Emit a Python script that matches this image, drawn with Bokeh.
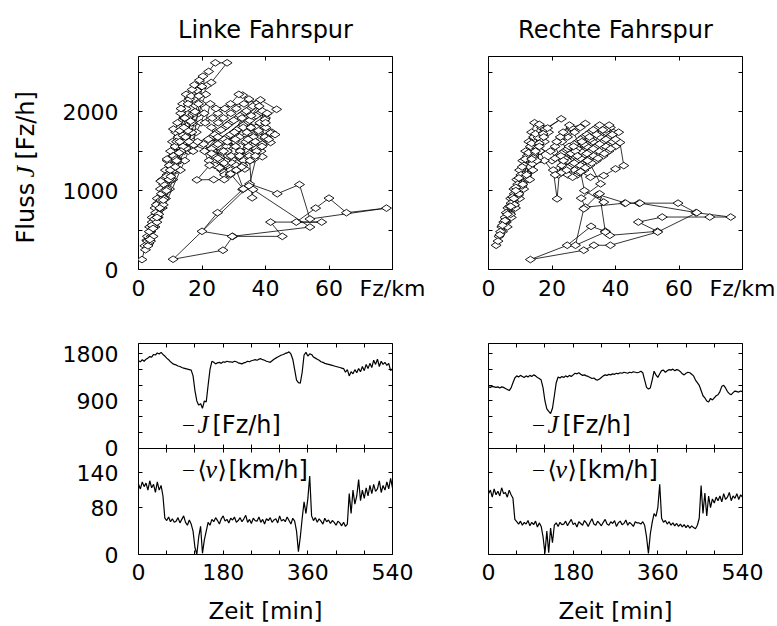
import math
from bokeh.plotting import figure
from bokeh.layouts import row, column
from bokeh.models import Range1d, FixedTicker, LinearAxis, Label
from bokeh.embed import file_html
from bokeh.resources import INLINE

# ---------------- data ----------------
t_min = list(range(0, 541, 4))   # sample times [min]

J_left = [
    1670, 1650, 1690, 1660, 1700, 1720, 1750, 1740, 1790, 1780,
    1820, 1800, 1830, 1790, 1760, 1720, 1690, 1650, 1620, 1600,
    1590, 1570, 1560, 1540, 1530, 1520, 1510, 1500, 1490, 1380,
    1100, 900, 820, 850, 760, 900, 880, 1200, 1500, 1660,
    1640, 1610, 1630, 1640, 1620, 1650, 1640, 1660, 1650, 1650,
    1640, 1660, 1650, 1630, 1620, 1610, 1630, 1640, 1660, 1650,
    1670, 1680, 1690, 1680, 1700, 1710, 1690, 1680, 1660, 1650,
    1640, 1670, 1700, 1720, 1740, 1760, 1780, 1790, 1810, 1820,
    1840, 1800, 1700, 1500, 1300, 1250, 1240, 1450, 1780, 1830,
    1760, 1800, 1790, 1740, 1720, 1700, 1680, 1650, 1640, 1620,
    1610, 1600, 1590, 1580, 1570, 1560, 1550, 1540, 1530, 1520,
    1450, 1500, 1380, 1460, 1420, 1500, 1440, 1520, 1460, 1560,
    1480, 1600, 1520, 1620, 1540, 1680, 1600, 1700, 1560, 1660,
    1600, 1640, 1580, 1620, 1480, 1520,
]
v_left = [
    120, 112, 124, 116, 122, 110, 126, 114, 120, 106,
    124, 110, 118, 100, 62, 58, 64, 56, 61, 55,
    57, 63, 54, 60, 66, 55, 50, 59, 52, 40,
    12, 0, 30, 48, 2, 25, 40, 55, 50, 60,
    56, 63, 58, 52, 61, 66, 57, 60, 54, 62,
    59, 64, 55, 58, 63, 56, 61, 67, 55, 60,
    53, 62, 58, 57, 64, 55, 60, 52, 61, 58,
    63, 55, 59, 61, 54, 66, 57, 60, 56, 64,
    58, 52, 62, 57, 40, 5, 30, 62, 90, 70,
    95, 134, 66, 58, 63, 55, 61, 57, 52, 62,
    56, 59, 53, 58, 55, 50, 57, 54, 49, 55,
    48, 52, 104, 70, 110, 86, 100, 128, 92, 110,
    96, 114, 100, 118, 104, 120, 108, 112, 126, 106,
    118, 110, 124, 112, 130, 114,
]
J_right = [
    1170, 1160, 1180, 1170, 1160, 1170, 1150, 1170, 1160, 1140,
    1120, 1100, 1150, 1250, 1340, 1380, 1360, 1390, 1370, 1350,
    1380, 1360, 1390, 1370, 1400, 1380, 1350, 1330, 1300, 1150,
    900, 750, 700, 660, 760, 1000, 1250, 1360, 1340, 1370,
    1350, 1380, 1360, 1390, 1370, 1400, 1430, 1420, 1440, 1410,
    1390, 1400, 1380, 1370, 1350, 1330, 1340, 1310, 1300, 1320,
    1350, 1380, 1400, 1390, 1410, 1400, 1420, 1410, 1430, 1420,
    1440, 1430, 1450, 1440, 1430, 1450, 1440, 1460, 1450, 1440,
    1450, 1470, 1440, 1300, 1160, 1130, 1150, 1300, 1470, 1400,
    1350, 1420, 1480, 1490, 1450, 1480, 1500, 1490, 1510, 1480,
    1500, 1490, 1460, 1420, 1400, 1430, 1450, 1440, 1410, 1380,
    1300, 1250, 1200, 1100, 1000, 960, 900, 880, 950, 920,
    960, 1000, 1020, 1080, 1180, 1200, 1150, 1080, 1040, 1020,
    1060, 1090, 1080, 1070, 1090, 1080,
]
v_right = [
    104, 110, 98, 112, 102, 108, 100, 114, 104, 106,
    98, 110, 102, 96, 60, 56, 52, 57, 50, 55,
    52, 58, 49, 55, 51, 57, 47, 54, 48, 30,
    2, 40, 3, 45, 20, 50, 54, 48, 55, 51,
    52, 57, 49, 55, 60, 51, 54, 47, 56, 53,
    50, 58, 54, 48, 55, 61, 52, 50, 57, 53,
    49, 55, 60, 52, 50, 56, 53, 58, 48, 54,
    57, 51, 53, 59, 50, 55, 52, 48, 56, 54,
    54, 52, 56, 50, 30, 2, 35, 55, 70, 65,
    80, 120, 62, 55, 58, 52, 56, 50, 54, 49,
    53, 48, 52, 47, 51, 46, 50, 45, 49, 46,
    44, 50, 62, 118, 70, 105, 66, 100, 80, 95,
    88, 98, 92, 100, 90, 104, 94, 98, 106, 92,
    100, 96, 104, 94, 102, 98,
]

# fundamental diagram points (density [Fz/km], flow [Fz/h]) in time order
fd_left_free1 = [
    (1.1, 126), (2.6, 370), (3.3, 330), (2.0, 300), (2.8, 420), (3.5, 540), (4.3, 660), (5.2, 780),
    (5.9, 900), (6.9, 1020), (7.5, 1140), (8.5, 1260), (9.1, 1380), (10.1, 1500), (10.7, 1620),
    (11.7, 1740), (12.3, 1860), (13.3, 1980), (13.9, 2100), (15.0, 2220), (19.2, 2400), (18.2, 2280),
    (17.4, 2160), (16.2, 2040), (15.5, 1920), (14.3, 1800), (13.5, 1680), (12.4, 1560), (11.6, 1440),
    (10.5, 1320), (9.7, 1200), (8.5, 1080), (7.8, 960), (6.6, 840), (5.9, 720), (4.7, 600), (3.9, 480),
    (2.8, 360), (4.0, 420), (5.2, 540), (6.2, 660), (7.5, 780), (8.5, 900), (9.8, 1020), (10.8, 1140),
    (12.1, 1260), (13.0, 1380), (14.4, 1500), (15.3, 1620), (16.7, 1740), (17.6, 1860), (19.0, 1980),
    (19.9, 2100), (21.2, 2220), (20.3, 2450), (22.1, 2510), (24.2, 2620), (27.9, 2620), (22.9, 2370),
    (21.4, 2330), (18.4, 2270), (16.9, 2280), (16.1, 2160), (15.0, 2040), (14.3, 1920), (13.2, 1800),
    (12.5, 1680), (11.5, 1560), (10.8, 1440), (9.7, 1320), (9.0, 1200), (7.9, 1080), (7.2, 960),
    (6.1, 840), (5.4, 720), (4.3, 600), (3.7, 480), (4.7, 540), (6.0, 660), (6.9, 780), (8.1, 900),
    (9.0, 1020), (10.3, 1140), (11.2, 1260), (12.4, 1380), (13.3, 1500), (14.6, 1620), (15.4, 1740),
    (16.7, 1860), (17.6, 1980), (18.9, 2100), (20.7, 1980), (19.7, 1860), (18.2, 1740), (17.2, 1620),
    (15.7, 1500), (14.6, 1380), (13.2, 1260),
]
fd_left_free3 = [
    (2.2, 250), (3.0, 300), (3.8, 360), (4.6, 420), (3.4, 480), (4.2, 560), (5.0, 640), (5.8, 600),
    (6.4, 700), (5.6, 820), (7.0, 880), (7.8, 820), (8.2, 1000), (7.0, 1120), (8.8, 1180), (9.6, 1140),
    (10.0, 1260), (9.0, 1400), (11.0, 1440), (11.8, 1400), (12.0, 1620), (11.0, 1780), (13.0, 1760),
    (14.0, 1700), (14.6, 1920), (13.4, 2040), (15.6, 2100), (16.6, 2200), (17.6, 2340), (19.0, 2200),
    (20.0, 2320),
]
fd_left_cong1 = [
    (17.0, 1560), (16.4, 1520), (17.4, 1580), (22.1, 1500), (24.0, 1560), (26.2, 1620), (27.9, 1680),
    (30.1, 1740), (31.9, 1800), (34.2, 1860), (35.9, 1920), (38.1, 1980), (40.0, 1920), (38.2, 1860),
    (35.8, 1800), (34.1, 1740), (31.8, 1680), (30.2, 1620), (27.8, 1560), (26.1, 1500), (23.9, 1440),
    (22.2, 1380), (24.1, 1320), (25.9, 1380), (28.2, 1440), (29.9, 1500), (32.1, 1560), (33.8, 1620),
    (36.2, 1680), (37.9, 1740), (40.1, 1800), (42.0, 1740), (39.8, 1680), (38.1, 1620), (35.9, 1560),
    (34.2, 1500), (31.8, 1440), (30.1, 1380), (27.9, 1320), (26.2, 1260), (23.0, 1800), (25.1, 1860),
    (26.8, 1920), (29.1, 1980), (30.8, 2040), (33.2, 2100), (34.8, 2160), (32.8, 2210), (31.6, 2220),
    (29.0, 2100), (27.2, 2040), (25.0, 1980), (23.2, 1920), (21.0, 1860), (22.6, 2100), (24.4, 2040),
    (38.4, 2150), (43.5, 2030), (39.8, 1900), (37.1, 2100), (35.2, 2040), (33.0, 1980), (31.2, 1920),
    (28.9, 1860), (27.1, 1800), (24.8, 1740), (23.2, 1680), (21.0, 1620), (41.6, 1730), (41.6, 1610),
    (38.6, 1500), (36.3, 1400), (39.0, 1430),
]
fd_left_cong3 = [
    (23.0, 1530), (25.0, 1590), (27.0, 1650), (29.0, 1710), (31.0, 1770), (33.0, 1830), (35.0, 1890),
    (37.0, 1950), (39.0, 2010), (36.0, 2070), (34.0, 2010), (32.0, 1950), (30.0, 1890), (28.0, 1830),
    (26.0, 1770), (24.0, 1710), (22.0, 1650), (20.5, 1590), (23.0, 1470), (25.0, 1410), (27.0, 1350),
    (29.0, 1290), (31.0, 1350), (33.0, 1410), (35.0, 1470), (37.0, 1530), (39.0, 1590), (41.0, 1650),
    (43.0, 1710), (40.0, 1860), (37.0, 1800), (34.5, 1650), (32.0, 1500), (29.5, 1350), (27.0, 1230),
    (25.5, 1290), (28.0, 1500), (30.5, 1650), (33.0, 1800), (35.5, 1950), (38.0, 2070), (40.5, 1980),
]
fd_left_jam1 = [
    (35.0, 1085), (43.7, 960), (50.7, 1077), (54.0, 640), (78.1, 778), (65.5, 720), (60.0, 904),
    (55.8, 778), (49.7, 601), (57.7, 601), (41.6, 601), (45.3, 420), (29.7, 420), (26.6, 244),
    (10.9, 130), (34.8, 1060), (32.8, 1014), (24.9, 720), (20.0, 484), (29.5, 420), (54.0, 538),
    (36.1, 1014), (35.8, 909), (35.0, 1380),
]
fd_left_cong2 = [
    (27.1, 1200), (29.0, 1260), (30.8, 1320), (33.1, 1380), (34.9, 1440), (37.2, 1500), (38.9, 1560),
    (36.8, 1440), (35.1, 1380), (32.9, 1320), (31.2, 1260), (28.8, 1200), (27.0, 1140), (23.7, 1140),
    (18.4, 1136), (22.4, 1320), (20.8, 1500), (25.0, 1680), (28.0, 1620), (30.6, 1560), (32.6, 1920),
    (30.2, 1740), (26.8, 1500), (29.2, 1440), (31.8, 1440), (34.6, 1560), (36.8, 1620), (37.8, 1760),
    (35.4, 1800),
]
fd_left_jam2 = [(30.8, 1260), (33.0, 1022), (29.0, 1212), (33.5, 1275), (32.5, 1300)]
fd_left_free2 = [
    (18.6, 1620), (17.2, 1500), (15.9, 1620), (16.8, 1740), (15.0, 1540), (14.0, 1560), (14.8, 1680),
    (16.4, 1880), (17.8, 2000), (15.6, 1760), (13.4, 1500), (12.0, 1380), (13.0, 1620), (14.3, 1800),
    (12.8, 1480), (11.6, 1300), (10.2, 1180), (8.8, 1000), (7.8, 880), (6.7, 780), (5.8, 660),
    (4.6, 520), (3.6, 380),
]

fd_right_free1 = [
    (2.4, 307), (3.3, 420), (4.2, 540), (5.2, 660), (6.1, 780), (7.0, 900), (8.0, 1020), (8.9, 1140),
    (9.8, 1260), (10.8, 1380), (11.7, 1500), (12.7, 1620), (13.6, 1740), (14.5, 1860), (16.7, 1800),
    (15.6, 1680), (14.4, 1560), (13.3, 1440), (12.2, 1320), (11.1, 1200), (10.0, 1080), (8.9, 960),
    (7.8, 840), (6.7, 720), (5.6, 600), (4.4, 480), (5.9, 540), (7.2, 660), (8.5, 780), (9.8, 900),
    (11.1, 1020), (12.4, 1140), (13.7, 1260), (15.0, 1380), (16.3, 1500), (17.6, 1620), (18.9, 1740),
    (14.2, 1680), (13.2, 1560), (12.2, 1440), (11.2, 1320), (10.2, 1200), (9.2, 1080), (8.1, 960),
    (7.1, 840), (6.1, 720), (5.1, 600), (7.0, 700), (8.2, 820), (9.4, 940), (10.6, 1060), (11.8, 1180),
    (13.0, 1300), (14.2, 1420), (15.4, 1540), (16.6, 1660), (17.8, 1780), (22.9, 1910), (18.6, 1793),
    (15.6, 1675),
]
fd_right_free3 = [
    (3.0, 360), (3.8, 480), (4.8, 600), (5.6, 720), (6.6, 800), (7.6, 920), (8.6, 1040), (9.6, 1160),
    (10.6, 1300), (11.6, 1400), (12.6, 1480), (13.6, 1600), (14.8, 1720), (16.0, 1840), (17.2, 1720),
    (16.0, 1600), (14.8, 1480), (13.8, 1340),
]
fd_right_cong1 = [
    (20.0, 1380), (22.1, 1440), (23.9, 1500), (26.0, 1560), (28.1, 1620), (29.9, 1680), (32.0, 1740),
    (34.1, 1800), (35.9, 1740), (38.0, 1680), (36.1, 1620), (33.9, 1560), (32.1, 1500), (29.9, 1440),
    (28.0, 1380), (26.1, 1320), (23.9, 1260), (22.0, 1200), (23.1, 1320), (24.9, 1380), (27.0, 1440),
    (29.1, 1500), (31.0, 1560), (32.9, 1620), (35.1, 1680), (36.9, 1740), (38.4, 1800), (41.0, 1740),
    (39.1, 1620), (37.0, 1560), (34.9, 1500), (33.1, 1440), (31.0, 1380), (28.9, 1320), (27.1, 1260),
    (25.0, 1200), (21.0, 1560), (23.1, 1620), (24.9, 1680), (27.1, 1740), (28.9, 1800), (30.5, 1850),
    (26.0, 1800), (24.4, 1740), (22.6, 1680), (28.0, 1200), (30.1, 1260), (31.9, 1320), (34.0, 1380),
    (36.1, 1440), (37.9, 1500), (40.0, 1560), (41.4, 1610), (42.6, 1317), (40.0, 1275), (36.3, 1190),
    (32.1, 1170),
]
fd_right_cong3 = [
    (21.0, 1410), (23.0, 1470), (25.0, 1530), (27.0, 1590), (29.0, 1650), (31.0, 1710), (33.0, 1770),
    (35.0, 1830), (37.0, 1770), (39.0, 1710), (37.0, 1650), (35.0, 1590), (33.0, 1530), (31.0, 1470),
    (29.0, 1410), (27.0, 1350), (25.0, 1290), (23.0, 1230), (24.0, 1410), (26.0, 1470), (28.0, 1530),
    (30.0, 1590), (32.0, 1650), (34.0, 1710), (36.0, 1770), (38.0, 1830), (40.0, 1650), (38.5, 1530),
    (36.5, 1470), (34.5, 1410), (32.5, 1350), (30.5, 1290), (28.5, 1230), (26.5, 1170), (19.5, 1500),
    (21.5, 1620), (23.5, 1740), (25.5, 1830),
]
fd_right_jam = [
    (35.3, 1086), (29.2, 904), (30.5, 790), (42.9, 841), (47.4, 841), (59.7, 841), (65.3, 720),
    (76.3, 665), (69.7, 665), (54.7, 665), (47.2, 601), (53.2, 484), (38.2, 433), (36.8, 484),
    (32.3, 547), (24.8, 307), (13.2, 126), (30.0, 244), (33.2, 307), (38.4, 307), (53.3, 475),
    (65.6, 720), (47.7, 841), (43.2, 841), (34.5, 950), (30.0, 770), (27.4, 307), (36.8, 475),
    (35.0, 960), (36.3, 854), (30.2, 1000),
]
fd_right_cong2 = [
    (29.0, 1240), (31.2, 1380), (27.4, 1500), (25.4, 1560), (22.8, 1440), (21.6, 896), (20.4, 1260),
    (23.6, 1380), (26.8, 1560), (29.4, 1620), (31.8, 1680), (28.0, 1440), (24.6, 1260), (21.0, 1200),
]
fd_right_free2 = [
    (17.6, 1380), (16.2, 1500), (15.2, 1380), (14.0, 1260), (13.0, 1140), (16.0, 1560), (17.4, 1680),
    (14.8, 1500), (13.6, 1400), (12.0, 1200), (10.8, 1080), (9.6, 960), (8.6, 1000), (8.0, 900),
    (7.0, 800), (6.0, 700), (5.2, 620), (4.4, 560), (3.6, 440),
]

# axis ticks and labels
fd_x_ticks = [0, 20, 40, 60, 80]
fd_x_labels = {0: "0", 20: "20", 40: "40", 60: "60", 80: "Fz/km"}
fd_y_major = [0, 1000, 2000]
fd_y_minor = [500, 1500, 2500]
t_major = [0, 180, 360, 540]
t_minor = [60, 120, 240, 300, 420, 480]
J_major = [0, 900, 1800]
J_minor = [300, 600, 1200, 1500]
v_major = [0, 80, 140]
J_MAX, V_MAX = 2000, 182

titles = ["Linke Fahrspur", "Rechte Fahrspur"]

# ---------------- styling helpers ----------------
SANS = "DejaVu Sans"
SERIF = "Liberation Serif"
FS = "22px"


def make_fig(width, height, xr, yr, mbl, mbr, mbt, mbb, title=None):
    p = figure(width=width, height=height, x_range=Range1d(*xr), y_range=Range1d(*yr),
               output_backend="svg", toolbar_location=None, title=title,
               x_axis_location=None, y_axis_location=None,
               min_border_left=mbl, min_border_right=mbr,
               min_border_top=mbt, min_border_bottom=mbb)
    p.grid.visible = False
    p.outline_line_color = "black"
    p.outline_line_width = 1
    p.background_fill_color = "white"
    p.border_fill_color = "white"
    return p


def add_axis(p, side, major, minor, labels=None, standoff=6, **kw):
    ax = LinearAxis(ticker=FixedTicker(ticks=major, minor_ticks=minor), **kw)
    ax.axis_line_color = None
    ax.major_tick_in = 4
    ax.major_tick_out = 0
    ax.minor_tick_in = 4
    ax.minor_tick_out = 0
    ax.major_tick_line_color = "black"
    ax.minor_tick_line_color = "black"
    ax.major_label_text_font = SANS
    ax.major_label_text_font_size = FS
    ax.major_label_text_color = "black"
    ax.major_label_standoff = standoff
    if labels is not None:
        ax.major_label_overrides = labels
    p.add_layout(ax, side)
    return ax


def mirror_axis(p, side, ticks, **kw):
    # tick marks only (as minor ticks, so no tick labels are drawn)
    return add_axis(p, side, [], ticks, **kw)


def lab(p, x, y, text, font=SANS, size=FS, style="normal", angle=0.0, align="left"):
    p.add_layout(Label(x=x, y=y, x_units="screen", y_units="screen", text=text,
                       text_font=font, text_font_size=size, text_font_style=style,
                       angle=angle, text_align=align, text_baseline="middle",
                       text_color="black"))


def split(*segments):
    pts = [pt for seg in segments for pt in seg]
    return [q[0] for q in pts], [q[1] for q in pts]


rho_L, flow_L = split(fd_left_free1, fd_left_free3, fd_left_cong1, fd_left_cong3, fd_left_jam1,
                      fd_left_cong2, fd_left_jam2, fd_left_free2)
rho_R, flow_R = split(fd_right_free1, fd_right_free3, fd_right_cong1, fd_right_cong3, fd_right_jam,
                      fd_right_cong2, fd_right_free2)

YLAB_W = 40
LEFT_W, RIGHT_W = 425, 352
L_MBL, L_MBR = 138, 33
R_MBL, R_MBR = 63, 35
TOP_H, BOT_H = 319, 307
# pixel heights of the speed strip (bottom) and flow strip (top) of the lower panel
V_PX, J_PX = 107, 105
# the lower panel's primary y scale is the speed; flow uses a second range whose
# zero sits on the strip divider.  The flow ticks are placed on the primary scale:
MAIN_TOP = V_MAX * (V_PX + J_PX) / V_PX


def flow_on_main(j):
    return V_MAX + j * (MAIN_TOP - V_MAX) / J_MAX


J_major_pos = [flow_on_main(j) for j in J_major]
J_minor_pos = [flow_on_main(j) for j in J_minor]
J_major_labels = {pos: str(j) for pos, j in zip(J_major_pos, J_major)}

# narrow panel holding the rotated y title of the top row
ylab = figure(width=YLAB_W, height=TOP_H, x_range=Range1d(0, 1), y_range=Range1d(0, 1),
              output_backend="svg", toolbar_location=None, title=None,
              x_axis_location=None, y_axis_location=None,
              min_border_left=0, min_border_right=0, min_border_top=56, min_border_bottom=50)
ylab.grid.visible = False
ylab.outline_line_color = None
ylab.background_fill_color = "white"
ylab.border_fill_color = "white"
lab(ylab, 25, 26, "Fluss", size="24px", angle=math.pi / 2)
lab(ylab, 25, 92, "J", font=SERIF, size="26px", style="italic", angle=math.pi / 2)
lab(ylab, 25, 110, "[Fz/h]", size="24px", angle=math.pi / 2)

tops, bots = [], []
for i, (rho, flow, Jt, vt) in enumerate([(rho_L, flow_L, J_left, v_left),
                                        (rho_R, flow_R, J_right, v_right)]):
    left = (i == 0)
    mbr = L_MBR if left else R_MBR

    # ---- fundamental diagram ----
    W = (LEFT_W - YLAB_W) if left else RIGHT_W
    mbl = (L_MBL - YLAB_W) if left else R_MBL
    p1 = make_fig(W, TOP_H, (0, 80), (0, 2700), mbl, mbr, 56, 50, title=titles[i])
    p1.title.align = "center"
    p1.title.text_font = SANS
    p1.title.text_font_size = "24px"
    p1.title.text_font_style = "normal"
    p1.title.text_color = "black"
    p1.title.standoff = 26
    p1.line(rho, flow, line_color="black", line_width=0.8)
    p1.scatter(rho, flow, marker="diamond", size=10, angle=math.pi / 2,
               fill_color="white", line_color="black", line_width=0.9)
    add_axis(p1, "below", fd_x_ticks, [], fd_x_labels, standoff=6)
    mirror_axis(p1, "above", fd_x_ticks)
    if left:
        add_axis(p1, "left", fd_y_major, fd_y_minor, standoff=20)
    else:
        mirror_axis(p1, "left", fd_y_major + fd_y_minor)
    mirror_axis(p1, "right", fd_y_major + fd_y_minor)
    tops.append(p1)

    # ---- time series: speed strip (bottom) and flow strip (top) ----
    W2 = LEFT_W if left else RIGHT_W
    mbl2 = L_MBL if left else R_MBL
    p2 = make_fig(W2, BOT_H, (0, 540), (0, MAIN_TOP), mbl2, mbr, 24, 71)
    p2.extra_y_ranges = {"J": Range1d(-J_MAX * V_PX / J_PX, J_MAX)}
    p2.line(t_min, vt, line_color="black", line_width=1.2)
    p2.line(t_min, Jt, line_color="black", line_width=1.2, y_range_name="J")

    ax = add_axis(p2, "below", t_major, t_minor, standoff=9)
    ax.axis_label = "Zeit [min]"
    ax.axis_label_text_font = SANS
    ax.axis_label_text_font_size = "23px"
    ax.axis_label_text_font_style = "normal"
    ax.axis_label_text_color = "black"
    ax.axis_label_standoff = 15
    mirror_axis(p2, "above", t_major + t_minor)
    # divider between the two strips, with ticks on both sides
    div = mirror_axis(p2, "below", t_major + t_minor, fixed_location=V_MAX)
    div.axis_line_color = "black"
    div.axis_line_width = 1
    div.minor_tick_out = 4
    if left:
        add_axis(p2, "left", v_major + J_major_pos, J_minor_pos, labels=J_major_labels, standoff=20)
    else:
        mirror_axis(p2, "left", v_major + J_major_pos + J_minor_pos)
    mirror_axis(p2, "right", v_major + J_major_pos + J_minor_pos)

    lab(p2, 44, 130, "\u2014", size="12px")
    lab(p2, 59, 130, "J", font=SERIF, size="25px", style="italic")
    lab(p2, 74, 130, "[Fz/h]", size="24px")
    lab(p2, 44, 85, "\u2014", size="12px")
    lab(p2, 59, 85, "\u27e8", font="DejaVu Serif", size="24px")
    lab(p2, 67, 85, "v", font=SERIF, size="26px", style="italic")
    lab(p2, 79, 85, "\u27e9", font="DejaVu Serif", size="24px")
    lab(p2, 90, 85, "[km/h]", size="24px")
    bots.append(p2)

layout = column(
    row(ylab, tops[0], tops[1]),
    row(bots[0], bots[1]),
)

open("out.html", "w").write(file_html(layout, INLINE))
